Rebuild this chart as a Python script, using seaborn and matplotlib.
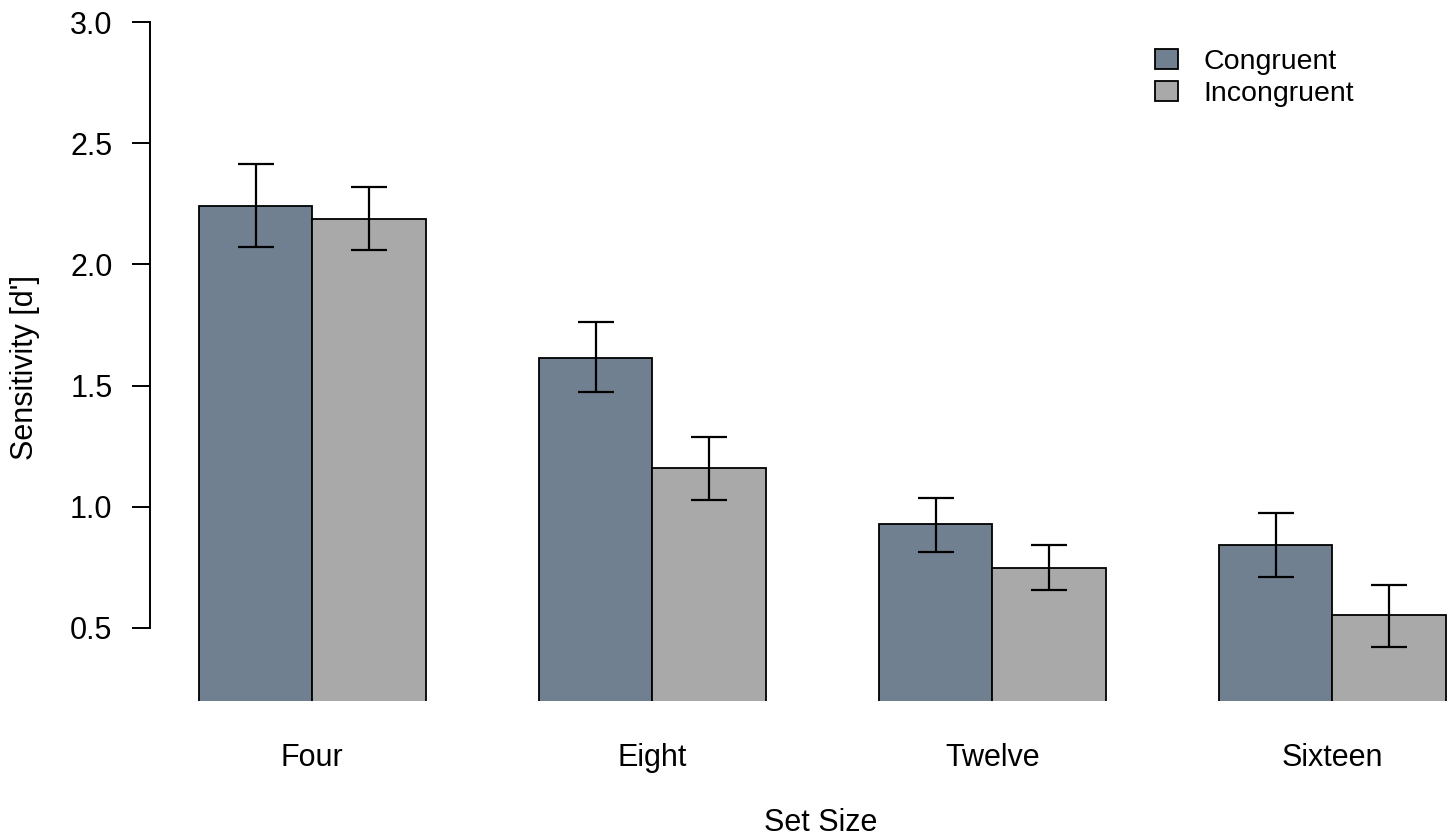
import pandas as pd
import seaborn as sns
import matplotlib.pyplot as plt

# values
set_sizes = ["Four", "Eight", "Twelve", "Sixteen"]
conditions = ["Congruent", "Incongruent"]
congruent = [2.241, 1.615, 0.928, 0.842]
incongruent = [2.187, 1.158, 0.745, 0.553]
congruent_hi = [2.414, 1.761, 1.034, 0.974]
congruent_lo = [2.071, 1.474, 0.811, 0.709]
incongruent_hi = [2.319, 1.289, 0.840, 0.676]
incongruent_lo = [2.059, 1.026, 0.655, 0.420]
y_ticks = [0.5, 1.0, 1.5, 2.0, 2.5, 3.0]

sns.set_theme(style="white")
plt.rcParams["font.family"] = ["Liberation Sans", "DejaVu Sans"]
plt.rcParams["text.color"] = "black"
plt.rcParams["xtick.color"] = "black"
plt.rcParams["ytick.color"] = "black"

df = pd.DataFrame({
    "set_size": set_sizes * 2,
    "condition": [conditions[0]] * 4 + [conditions[1]] * 4,
    "value": congruent + incongruent,
})

W, H = 1452, 840
fig = plt.figure(figsize=(W / 100, H / 100), dpi=100)
# plot region runs a little past the right edge, like the cropped original
ax = fig.add_axes([150 / W, 1 - 701 / H, 1342 / W, 701 / H])

sns.barplot(df, x="set_size", y="value", hue="condition", order=set_sizes,
            hue_order=conditions, palette=["#708090", "#A9A9A9"],
            width=2 / 3, errorbar=None, edgecolor="black", linewidth=1.3,
            saturation=1, ax=ax)

# error bars at the centres of the bars seaborn drew
bars = [p for p in ax.patches if p.get_height() > 0][:8]
means = congruent + incongruent
his = congruent_hi + incongruent_hi
los = congruent_lo + incongruent_lo
for bar, m, hi, lo in zip(bars, means, his, los):
    cx = bar.get_x() + bar.get_width() / 2
    ax.errorbar(cx, m, yerr=[[m - lo], [hi - m]], fmt="none", ecolor="black",
                elinewidth=1.6, capsize=13.3, capthick=1.6)

ax.set_xlim(-0.477, 3.47)
ax.set_ylim(0.198, 3.091)
ax.set_yticks(y_ticks)
ax.set_yticklabels([f"{t:.1f}" for t in y_ticks])

for s in ["top", "right", "bottom"]:
    ax.spines[s].set_visible(False)
ax.spines["left"].set_bounds(0.5, 3.0)
ax.spines["left"].set_linewidth(1.4)
ax.spines["left"].set_color("black")

ax.tick_params(axis="y", direction="out", length=13, width=1.4, pad=14,
               labelsize=22, color="black", labelcolor="black", left=True)
ax.tick_params(axis="x", length=0, pad=30, labelsize=22, labelcolor="black")

ax.set_xlabel("")
ax.set_ylabel("")
fig.text(821 / W, 2 / H, "Set Size", ha="center", va="bottom",
         fontsize=22, color="black")
fig.text(25 / W, 1 - 368 / H, "Sensitivity [d']", ha="center", va="center",
         rotation=90, fontsize=22, color="black")

leg = ax.legend(loc="upper left", bbox_to_anchor=(1155 / W, 1 - 49 / H),
                bbox_transform=fig.transFigure, frameon=False, fontsize=20.5,
                borderpad=0, borderaxespad=0, handlelength=0.8, handleheight=0.7,
                handletextpad=0.9, labelspacing=0.22)
for t in leg.get_texts():
    t.set_color("black")

fig.savefig("out.png", dpi=100)
